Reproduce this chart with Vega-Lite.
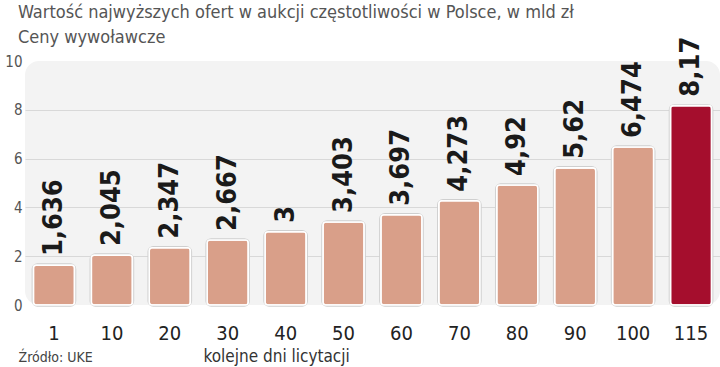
{
  "$schema": "https://vega.github.io/schema/vega-lite/v6.json",
  "width": 695,
  "height": 244,
  "autosize": {"type": "none"},
  "padding": {"left": 25, "top": 61, "right": 0, "bottom": 62},
  "background": "#ffffff",
  "config": {
    "locale": {"number": {"decimal": ",", "thousands": " ", "grouping": [3], "currency": ["", " zł"]}},
    "view": {"fill": "#f3f3f3", "stroke": null, "cornerRadius": 14},
    "font": "DejaVu Sans Condensed"
  },
  "title": {
    "text": "Wartość najwyższych ofert w aukcji częstotliwości w Polsce, w mld zł",
    "subtitle": "Ceny wywoławcze",
    "anchor": "start",
    "frame": "group",
    "dx": -7,
    "dy": 11,
    "offset": 1,
    "font": "DejaVu Sans Condensed",
    "fontSize": 18,
    "fontWeight": "normal",
    "color": "#555555",
    "subtitleFont": "DejaVu Sans Condensed",
    "subtitleFontSize": 18,
    "subtitleColor": "#555555",
    "subtitlePadding": 7
  },
  "data": {
    "values": [
      {"day": "1", "value": 1.636, "final": false},
      {"day": "10", "value": 2.045, "final": false},
      {"day": "20", "value": 2.347, "final": false},
      {"day": "30", "value": 2.667, "final": false},
      {"day": "40", "value": 3, "final": false},
      {"day": "50", "value": 3.403, "final": false},
      {"day": "60", "value": 3.697, "final": false},
      {"day": "70", "value": 4.273, "final": false},
      {"day": "80", "value": 4.92, "final": false},
      {"day": "90", "value": 5.62, "final": false},
      {"day": "100", "value": 6.474, "final": false},
      {"day": "115", "value": 8.17, "final": true}
    ]
  },
  "encoding": {
    "x": {
      "field": "day",
      "type": "nominal",
      "sort": null,
      "scale": {"paddingInner": 0.29, "paddingOuter": 0.145},
      "axis": {
        "labelAngle": 0,
        "labelFontSize": 20,
        "labelColor": "#222222",
        "labelPadding": 18,
        "labelBaseline": "top",
        "ticks": false,
        "domain": false,
        "title": "kolejne dni licytacji",
        "titleFontSize": 17,
        "titleFontWeight": "normal",
        "titleColor": "#333333",
        "titleAnchor": "start",
        "titleX": 178,
        "titlePadding": 5
      }
    },
    "y": {
      "field": "value",
      "type": "quantitative",
      "scale": {"domain": [0, 10]},
      "axis": {
        "values": [0, 2, 4, 6, 8, 10],
        "labelFontSize": 15,
        "labelColor": "#555555",
        "labelPadding": 3,
        "ticks": false,
        "domain": false,
        "gridColor": "#d8d8d8",
        "gridWidth": 1.2,
        "gridOpacity": {"condition": {"test": "datum.value == 10 || datum.value == 0", "value": 0}, "value": 1},
        "title": "Źródło: UKE",
        "titleAngle": 0,
        "titleAlign": "left",
        "titleBaseline": "alphabetic",
        "titleX": -7,
        "titleY": 300,
        "titleFontSize": 14,
        "titleFontWeight": "normal",
        "titleColor": "#444444"
      }
    }
  },
  "layer": [
    {
      "mark": {"type": "bar", "cornerRadius": 4, "stroke": "#cfcfcf", "strokeWidth": 3.5, "fill": "#cfcfcf"},
      "encoding": {}
    },
    {
      "mark": {"type": "bar", "cornerRadius": 3, "stroke": "#ffffff", "strokeWidth": 1.6},
      "encoding": {
        "color": {
          "field": "final",
          "type": "nominal",
          "scale": {"domain": [false, true], "range": ["#d99f89", "#a50e2d"]},
          "legend": null
        }
      }
    },
    {
      "mark": {
        "type": "text",
        "angle": 270,
        "align": "left",
        "baseline": "middle",
        "dx": 9,
        "fontSize": 27,
        "fontWeight": "bold",
        "font": "DejaVu Sans Condensed",
        "color": "#1a1a1a"
      },
      "encoding": {
        "text": {"field": "value", "type": "quantitative", "format": ".4~g"}
      }
    }
  ]
}
